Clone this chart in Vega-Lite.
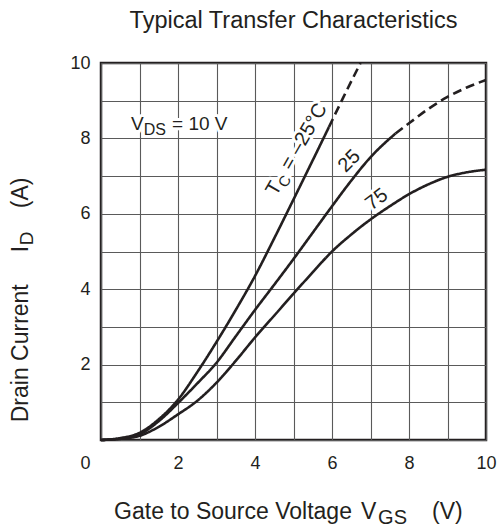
{
  "$schema": "https://vega.github.io/schema/vega-lite/v6.json",
  "width": 385,
  "height": 377,
  "autosize": "none",
  "padding": {"left": 101, "top": 63, "right": 11, "bottom": 87},
  "title": {"text": "Typical Transfer Characteristics", "fontSize": 23.5, "font": "Liberation Sans", "fontWeight": "normal", "color": "#231f20", "offset": 22, "anchor": "middle"},
  "config": {
    "view": {"stroke": "#231f20", "strokeWidth": 2.5},
    "font": "Liberation Sans",
    "text": {"font": "Liberation Sans", "color": "#231f20"}
  },
  "datasets": {
    "curves": [
      {"Tc": "-25", "kind": "typical", "v": 0, "i": 0},
      {"Tc": "-25", "kind": "typical", "v": 0.5, "i": 0.05},
      {"Tc": "-25", "kind": "typical", "v": 1, "i": 0.19},
      {"Tc": "-25", "kind": "typical", "v": 1.5, "i": 0.55},
      {"Tc": "-25", "kind": "typical", "v": 2, "i": 1.07},
      {"Tc": "-25", "kind": "typical", "v": 2.5, "i": 1.8},
      {"Tc": "-25", "kind": "typical", "v": 3, "i": 2.6},
      {"Tc": "-25", "kind": "typical", "v": 3.5, "i": 3.45},
      {"Tc": "-25", "kind": "typical", "v": 4, "i": 4.35},
      {"Tc": "-25", "kind": "typical", "v": 4.5, "i": 5.35},
      {"Tc": "-25", "kind": "typical", "v": 5, "i": 6.38},
      {"Tc": "-25", "kind": "typical", "v": 5.5, "i": 7.42},
      {"Tc": "-25", "kind": "typical", "v": 5.92, "i": 8.3},
      {"Tc": "-25", "kind": "extrapolated", "v": 5.92, "i": 8.3},
      {"Tc": "-25", "kind": "extrapolated", "v": 6.3, "i": 9.1},
      {"Tc": "-25", "kind": "extrapolated", "v": 6.74, "i": 10},
      {"Tc": "25", "kind": "typical", "v": 0, "i": 0},
      {"Tc": "25", "kind": "typical", "v": 0.5, "i": 0.04},
      {"Tc": "25", "kind": "typical", "v": 1, "i": 0.15},
      {"Tc": "25", "kind": "typical", "v": 1.5, "i": 0.5},
      {"Tc": "25", "kind": "typical", "v": 2, "i": 0.98},
      {"Tc": "25", "kind": "typical", "v": 2.5, "i": 1.5},
      {"Tc": "25", "kind": "typical", "v": 3, "i": 2.05},
      {"Tc": "25", "kind": "typical", "v": 3.5, "i": 2.75},
      {"Tc": "25", "kind": "typical", "v": 4, "i": 3.45},
      {"Tc": "25", "kind": "typical", "v": 4.5, "i": 4.12},
      {"Tc": "25", "kind": "typical", "v": 5, "i": 4.8},
      {"Tc": "25", "kind": "typical", "v": 5.5, "i": 5.5},
      {"Tc": "25", "kind": "typical", "v": 6, "i": 6.2},
      {"Tc": "25", "kind": "typical", "v": 6.5, "i": 6.88},
      {"Tc": "25", "kind": "typical", "v": 7, "i": 7.5},
      {"Tc": "25", "kind": "typical", "v": 7.65, "i": 8.13},
      {"Tc": "25", "kind": "extrapolated", "v": 7.65, "i": 8.13},
      {"Tc": "25", "kind": "extrapolated", "v": 8, "i": 8.4},
      {"Tc": "25", "kind": "extrapolated", "v": 8.5, "i": 8.78},
      {"Tc": "25", "kind": "extrapolated", "v": 9, "i": 9.1},
      {"Tc": "25", "kind": "extrapolated", "v": 9.5, "i": 9.35},
      {"Tc": "25", "kind": "extrapolated", "v": 10, "i": 9.55},
      {"Tc": "75", "kind": "typical", "v": 0, "i": 0},
      {"Tc": "75", "kind": "typical", "v": 0.5, "i": 0.03},
      {"Tc": "75", "kind": "typical", "v": 1, "i": 0.11},
      {"Tc": "75", "kind": "typical", "v": 1.5, "i": 0.35},
      {"Tc": "75", "kind": "typical", "v": 2, "i": 0.68},
      {"Tc": "75", "kind": "typical", "v": 2.5, "i": 1.04},
      {"Tc": "75", "kind": "typical", "v": 3, "i": 1.52},
      {"Tc": "75", "kind": "typical", "v": 3.5, "i": 2.1},
      {"Tc": "75", "kind": "typical", "v": 4, "i": 2.72},
      {"Tc": "75", "kind": "typical", "v": 4.5, "i": 3.3},
      {"Tc": "75", "kind": "typical", "v": 5, "i": 3.88},
      {"Tc": "75", "kind": "typical", "v": 5.5, "i": 4.45},
      {"Tc": "75", "kind": "typical", "v": 6, "i": 5.0},
      {"Tc": "75", "kind": "typical", "v": 6.5, "i": 5.45},
      {"Tc": "75", "kind": "typical", "v": 7, "i": 5.85},
      {"Tc": "75", "kind": "typical", "v": 7.5, "i": 6.2},
      {"Tc": "75", "kind": "typical", "v": 8, "i": 6.52},
      {"Tc": "75", "kind": "typical", "v": 8.5, "i": 6.78},
      {"Tc": "75", "kind": "typical", "v": 9, "i": 6.98},
      {"Tc": "75", "kind": "typical", "v": 9.5, "i": 7.1},
      {"Tc": "75", "kind": "typical", "v": 10, "i": 7.17}
    ]
  },
  "encoding": {
    "x": {
      "field": "v", "type": "quantitative",
      "scale": {"domain": [0, 10], "nice": false, "zero": false},
      "axis": {
        "title": null,
        "values": [0, 1, 2, 3, 4, 5, 6, 7, 8, 9, 10],
        "labelExpr": "datum.value % 2 === 0 ? datum.label : ''",
        "grid": true, "gridColor": "#5a5a5a", "gridWidth": 1.1,
        "ticks": false, "domain": false,
        "labelFontSize": 18, "labelPadding": 14, "labelColor": "#231f20",
        "labelFlush": false, "labelOverlap": false,
        "labelOffset": {"condition": {"test": "datum.value === 0", "value": -16}, "value": 0}
      }
    },
    "y": {
      "field": "i", "type": "quantitative",
      "scale": {"domain": [0, 10], "nice": false, "zero": false},
      "axis": {
        "title": null,
        "values": [0, 1, 2, 3, 4, 5, 6, 7, 8, 9, 10],
        "labelExpr": "datum.value % 2 === 0 && datum.value > 0 ? datum.label : ''",
        "grid": true, "gridColor": "#5a5a5a", "gridWidth": 1.1,
        "ticks": false, "domain": false,
        "labelFontSize": 18, "labelPadding": 11, "labelColor": "#231f20",
        "labelFlush": false, "labelOverlap": false
      }
    }
  },
  "layer": [
    {
      "data": {"values": [{"v": 0.78, "i": 8.22, "label": "V"}]},
      "mark": {"type": "text", "align": "left", "baseline": "alphabetic", "fontSize": 19, "stroke": "white", "strokeWidth": 6, "strokeJoin": "round"},
      "encoding": {"text": {"field": "label"}}
    },
    {
      "data": {"values": [{"v": 0.78, "i": 8.22, "label": "DS"}]},
      "mark": {"type": "text", "align": "left", "baseline": "alphabetic", "fontSize": 16, "dx": 12.7, "dy": 5, "stroke": "white", "strokeWidth": 6, "strokeJoin": "round"},
      "encoding": {"text": {"field": "label"}}
    },
    {
      "data": {"values": [{"v": 0.78, "i": 8.22, "label": "= 10 V"}]},
      "mark": {"type": "text", "align": "left", "baseline": "alphabetic", "fontSize": 19, "dx": 41, "stroke": "white", "strokeWidth": 6, "strokeJoin": "round"},
      "encoding": {"text": {"field": "label"}}
    },
    {
      "data": {"values": [{"v": 4.55, "i": 6.45, "label": "T"}]},
      "mark": {"type": "text", "align": "left", "baseline": "alphabetic", "fontSize": 20, "angle": -60, "stroke": "white", "strokeWidth": 6, "strokeJoin": "round"},
      "encoding": {"text": {"field": "label"}}
    },
    {
      "data": {"values": [{"v": 4.55, "i": 6.45, "label": "C"}]},
      "mark": {"type": "text", "align": "left", "baseline": "alphabetic", "fontSize": 15, "angle": -60, "dx": 12.2, "dy": 4.5, "stroke": "white", "strokeWidth": 6, "strokeJoin": "round"},
      "encoding": {"text": {"field": "label"}}
    },
    {
      "data": {"values": [{"v": 4.55, "i": 6.45, "label": "= –25°C"}]},
      "mark": {"type": "text", "align": "left", "baseline": "alphabetic", "fontSize": 20, "angle": -60, "dx": 29.5, "stroke": "white", "strokeWidth": 6, "strokeJoin": "round"},
      "encoding": {"text": {"field": "label"}}
    },
    {
      "data": {"values": [{"v": 6.45, "i": 7.4, "label": "25"}]},
      "mark": {"type": "text", "align": "center", "baseline": "middle", "fontSize": 20, "angle": -45, "stroke": "white", "strokeWidth": 6, "strokeJoin": "round"},
      "encoding": {"text": {"field": "label"}}
    },
    {
      "data": {"values": [{"v": 7.16, "i": 6.38, "label": "75"}]},
      "mark": {"type": "text", "align": "center", "baseline": "middle", "fontSize": 20, "angle": -37, "stroke": "white", "strokeWidth": 6, "strokeJoin": "round"},
      "encoding": {"text": {"field": "label"}}
    },
    {
      "data": {"name": "curves"},
      "mark": {"type": "line", "color": "#231f20", "strokeWidth": 2.6, "interpolate": "monotone"},
      "encoding": {
        "detail": {"field": "Tc"},
        "strokeDash": {"field": "kind", "type": "nominal", "scale": {"domain": ["typical", "extrapolated"], "range": [[1, 0], [9, 5]]}, "legend": null}
      }
    },
    {
      "data": {"values": [{"v": 0.78, "i": 8.22, "label": "V"}]},
      "mark": {"type": "text", "align": "left", "baseline": "alphabetic", "fontSize": 19},
      "encoding": {"text": {"field": "label"}}
    },
    {
      "data": {"values": [{"v": 0.78, "i": 8.22, "label": "DS"}]},
      "mark": {"type": "text", "align": "left", "baseline": "alphabetic", "fontSize": 16, "dx": 12.7, "dy": 5},
      "encoding": {"text": {"field": "label"}}
    },
    {
      "data": {"values": [{"v": 0.78, "i": 8.22, "label": "= 10 V"}]},
      "mark": {"type": "text", "align": "left", "baseline": "alphabetic", "fontSize": 19, "dx": 41},
      "encoding": {"text": {"field": "label"}}
    },
    {
      "data": {"values": [{"v": 4.55, "i": 6.45, "label": "T"}]},
      "mark": {"type": "text", "align": "left", "baseline": "alphabetic", "fontSize": 20, "angle": -60},
      "encoding": {"text": {"field": "label"}}
    },
    {
      "data": {"values": [{"v": 4.55, "i": 6.45, "label": "C"}]},
      "mark": {"type": "text", "align": "left", "baseline": "alphabetic", "fontSize": 15, "angle": -60, "dx": 12.2, "dy": 4.5},
      "encoding": {"text": {"field": "label"}}
    },
    {
      "data": {"values": [{"v": 4.55, "i": 6.45, "label": "= –25°C"}]},
      "mark": {"type": "text", "align": "left", "baseline": "alphabetic", "fontSize": 20, "angle": -60, "dx": 29.5},
      "encoding": {"text": {"field": "label"}}
    },
    {
      "data": {"values": [{"v": 6.45, "i": 7.4, "label": "25"}]},
      "mark": {"type": "text", "align": "center", "baseline": "middle", "fontSize": 20, "angle": -45},
      "encoding": {"text": {"field": "label"}}
    },
    {
      "data": {"values": [{"v": 7.16, "i": 6.38, "label": "75"}]},
      "mark": {"type": "text", "align": "center", "baseline": "middle", "fontSize": 20, "angle": -37},
      "encoding": {"text": {"field": "label"}}
    },
    {
      "data": {"values": [{"v": 0.34, "i": -2.09, "label": "Gate to Source Voltage"}]},
      "mark": {"type": "text", "align": "left", "baseline": "alphabetic", "fontSize": 23},
      "encoding": {"text": {"field": "label"}}
    },
    {
      "data": {"values": [{"v": 0.34, "i": -2.09, "label": "V"}]},
      "mark": {"type": "text", "align": "left", "baseline": "alphabetic", "fontSize": 23, "dx": 247},
      "encoding": {"text": {"field": "label"}}
    },
    {
      "data": {"values": [{"v": 0.34, "i": -2.09, "label": "GS"}]},
      "mark": {"type": "text", "align": "left", "baseline": "alphabetic", "fontSize": 20, "dx": 264, "dy": 5},
      "encoding": {"text": {"field": "label"}}
    },
    {
      "data": {"values": [{"v": 0.34, "i": -2.09, "label": "(V)"}]},
      "mark": {"type": "text", "align": "left", "baseline": "alphabetic", "fontSize": 23, "dx": 318},
      "encoding": {"text": {"field": "label"}}
    },
    {
      "data": {"values": [{"v": -1.9, "i": 0.47, "label": "Drain Current"}]},
      "mark": {"type": "text", "align": "left", "baseline": "alphabetic", "fontSize": 23, "angle": -90},
      "encoding": {"text": {"field": "label"}}
    },
    {
      "data": {"values": [{"v": -1.9, "i": 0.47, "label": "I"}]},
      "mark": {"type": "text", "align": "left", "baseline": "alphabetic", "fontSize": 23, "angle": -90, "dx": 170},
      "encoding": {"text": {"field": "label"}}
    },
    {
      "data": {"values": [{"v": -1.9, "i": 0.47, "label": "D"}]},
      "mark": {"type": "text", "align": "left", "baseline": "alphabetic", "fontSize": 19, "angle": -90, "dx": 177, "dy": 5},
      "encoding": {"text": {"field": "label"}}
    },
    {
      "data": {"values": [{"v": -1.9, "i": 0.47, "label": "(A)"}]},
      "mark": {"type": "text", "align": "left", "baseline": "alphabetic", "fontSize": 23, "angle": -90, "dx": 214},
      "encoding": {"text": {"field": "label"}}
    }
  ]
}
